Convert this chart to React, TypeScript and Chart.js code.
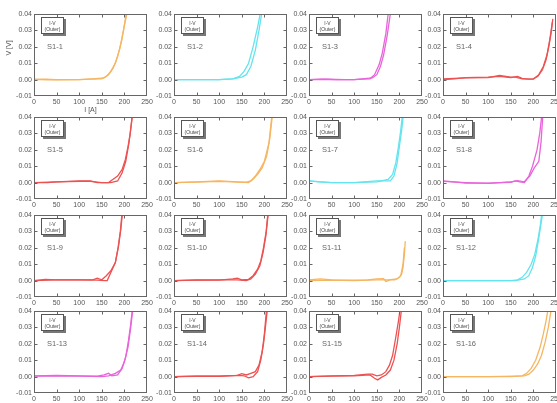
import React, { useEffect, useRef } from "react";
import { Chart, registerables } from "chart.js";

Chart.register(...registerables);

// ---- axis ticks ----
const X_TICKS = [0, 50, 100, 150, 200, 250];
const Y_TICKS = [-0.01, 0, 0.01, 0.02, 0.03, 0.04];

// ---- sample names ----
const SAMPLES = [
  "S1-1", "S1-2", "S1-3", "S1-4",
  "S1-5", "S1-6", "S1-7", "S1-8",
  "S1-9", "S1-10", "S1-11", "S1-12",
  "S1-13", "S1-14", "S1-15", "S1-16",
];

// ---- colour per sample ----
const ORANGE = "rgb(245,182,98)";
const CYAN = "rgb(100,228,238)";
const MAGENTA = "rgb(232,100,218)";
const RED = "rgb(236,82,82)";
const SAMPLE_COLORS = [
  ORANGE, CYAN, MAGENTA, RED,
  RED, ORANGE, CYAN, MAGENTA,
  RED, RED, ORANGE, CYAN,
  MAGENTA, RED, RED, ORANGE,
];

type Pt = [number, number];

// ---- I [A], V [V] curves (two sweeps per sample) ----
const S1_1_a: Pt[] = [[0,0],[25,0.0002],[50,0],[75,0],[100,0],[125,0.0003],[150,0.0005],[160,0.002],[170,0.005],[180,0.01],[190,0.019],[198,0.03],[205,0.042]];
const S1_1_b: Pt[] = [[0,0.0003],[25,0],[50,-0.0002],[100,0],[130,0.0005],[155,0.001],[165,0.003],[175,0.007],[185,0.014],[194,0.024],[200,0.033],[207,0.042]];

const S1_2_a: Pt[] = [[0,0],[50,0],[100,0],[130,0.0005],[145,0.002],[155,0.005],[165,0.01],[175,0.02],[185,0.032],[192,0.042]];
const S1_2_b: Pt[] = [[0,0],[50,0],[100,0],[130,0.0005],[150,0.0015],[160,0.003],[170,0.008],[180,0.018],[188,0.03],[195,0.042]];

const S1_3_a: Pt[] = [[0,0],[30,0.0003],[60,0],[100,0],[120,0.0003],[135,0.0005],[145,0.003],[155,0.009],[162,0.016],[170,0.028],[176,0.042]];
const S1_3_b: Pt[] = [[0,0],[40,0.0002],[80,0],[100,0],[140,0.001],[150,0.003],[158,0.008],[165,0.015],[173,0.027],[181,0.042]];

const S1_4_a: Pt[] = [[0,0],[25,0.0005],[50,0.0012],[100,0.0015],[125,0.002],[150,0.0012],[165,0.002],[175,0.0008],[190,0.0003],[200,0.0005],[210,0.002],[220,0.006],[228,0.012],[234,0.02],[239,0.028],[243,0.037]];
const S1_4_b: Pt[] = [[0,0.0005],[50,0.001],[100,0.0012],[125,0.0025],[150,0.0015],[160,0.0015],[175,0.0005],[200,0.0003],[212,0.003],[222,0.008],[230,0.015],[236,0.024],[242,0.035]];

const S1_5_a: Pt[] = [[0,0],[30,0],[50,0.0005],[100,0.001],[125,0.001],[140,0],[165,0],[175,0.002],[185,0.004],[195,0.008],[202,0.014],[208,0.022],[213,0.03],[218,0.042]];
const S1_5_b: Pt[] = [[0,0],[50,0.0005],[100,0.0008],[125,0.0008],[150,0],[170,0],[185,0.001],[195,0.006],[203,0.013],[210,0.024],[218,0.042]];

const S1_6_a: Pt[] = [[0,0],[50,0.0003],[100,0.0008],[130,0.0005],[165,0],[175,0.002],[185,0.005],[195,0.009],[205,0.016],[212,0.027],[218,0.042]];
const S1_6_b: Pt[] = [[0,0],[50,0.0005],[100,0.001],[140,0.0005],[160,0.0003],[170,0.001],[180,0.004],[190,0.008],[200,0.013],[210,0.024],[217,0.042]];

const S1_7_a: Pt[] = [[0,0.001],[20,0.0005],[50,0],[100,0],[150,0.0005],[175,0.002],[185,0.005],[192,0.012],[198,0.022],[203,0.032],[207,0.042]];
const S1_7_b: Pt[] = [[0,0.001],[50,0],[100,0],[150,0.001],[180,0.001],[188,0.004],[195,0.012],[200,0.022],[205,0.032],[209,0.042]];

const S1_8_a: Pt[] = [[0,0.001],[25,0.0005],[50,-0.0003],[100,-0.0003],[130,0],[150,0.0002],[160,0.001],[170,0.0005],[180,0],[190,0.004],[198,0.01],[208,0.02],[214,0.03],[219,0.042]];
const S1_8_b: Pt[] = [[0,0.0008],[50,0],[100,-0.0005],[150,0.0005],[165,0.0012],[180,0.0005],[192,0.004],[202,0.009],[212,0.013],[217,0.025],[221,0.042]];

const S1_9_a: Pt[] = [[0,0],[25,0.0008],[50,0.0005],[100,0.0005],[130,0.0005],[140,0.0015],[150,0.0005],[160,0.003],[170,0.006],[180,0.011],[186,0.02],[191,0.03],[195,0.042]];
const S1_9_b: Pt[] = [[0,0],[50,0.0005],[100,0.0005],[140,0.0003],[155,0],[162,0],[170,0.005],[180,0.011],[187,0.021],[192,0.031],[196,0.042]];

const S1_10_a: Pt[] = [[0,0],[50,0.0005],[100,0.0003],[130,0.001],[140,0.0015],[150,0.0005],[165,0.0008],[175,0.003],[185,0.007],[192,0.012],[198,0.02],[204,0.03],[208,0.042]];
const S1_10_b: Pt[] = [[0,0],[50,0.0003],[100,0.0005],[140,0.0005],[160,0],[170,0.001],[180,0.004],[190,0.009],[197,0.017],[203,0.027],[209,0.042]];

const S1_11_a: Pt[] = [[0,0.0005],[25,0.001],[50,0.0005],[100,0.0003],[130,0.0005],[150,0.001],[165,0.0012],[170,-0.0005],[180,0.0005],[190,0.0005],[200,0.002],[205,0.004],[208,0.008],[211,0.016],[213,0.024]];
const S1_11_b: Pt[] = [[0,0],[50,0.0003],[100,0],[150,0.0005],[175,0.0005],[195,0.001],[203,0.003],[208,0.01],[211,0.02]];

const S1_12_a: Pt[] = [[0,0],[50,0],[100,0],[150,0],[165,0.0005],[175,0.002],[185,0.005],[195,0.01],[203,0.016],[210,0.025],[215,0.033],[219,0.042]];
const S1_12_b: Pt[] = [[0,0],[100,0],[160,0],[180,0.001],[190,0.003],[198,0.008],[205,0.015],[212,0.026],[217,0.035],[221,0.042]];

const S1_13_a: Pt[] = [[0,0.0005],[50,0.0008],[100,0.0005],[140,0.0003],[155,0.001],[165,0.002],[172,0.0005],[185,0.001],[195,0.005],[203,0.012],[209,0.022],[214,0.032],[218,0.042]];
const S1_13_b: Pt[] = [[0,0.0003],[50,0.0005],[100,0.0003],[150,0],[165,0.0005],[180,0.002],[192,0.004],[200,0.009],[208,0.018],[214,0.03],[219,0.042]];

const S1_14_a: Pt[] = [[0,0],[50,0.0003],[100,0.0003],[140,0.0008],[150,0.0018],[160,0.001],[170,0.002],[180,0.003],[188,0.007],[195,0.015],[200,0.026],[205,0.042]];
const S1_14_b: Pt[] = [[0,0],[50,0.0002],[100,0.0002],[145,0.0008],[155,0.0005],[165,-0.0008],[175,0],[185,0.003],[192,0.01],[198,0.02],[203,0.032],[207,0.042]];

const S1_15_a: Pt[] = [[0,0],[50,0.0005],[100,0.0008],[130,0.0015],[140,0.0015],[150,0.0005],[160,0.001],[170,0.003],[178,0.007],[185,0.013],[192,0.024],[198,0.034],[202,0.042]];
const S1_15_b: Pt[] = [[0,0],[50,0.0003],[100,0.0005],[135,0.001],[145,-0.001],[152,-0.002],[160,-0.0005],[170,0.001],[180,0.004],[188,0.01],[195,0.02],[200,0.03],[205,0.042]];

const S1_16_a: Pt[] = [[0,0],[50,0],[100,0],[150,0],[175,0.0005],[185,0.002],[195,0.005],[205,0.01],[215,0.018],[222,0.026],[228,0.034],[233,0.042]];
const S1_16_b: Pt[] = [[0,0],[100,0],[160,0.0003],[180,0.0005],[190,0.0015],[200,0.004],[210,0.008],[218,0.013],[226,0.021],[233,0.03],[240,0.042]];

const SAMPLE_CURVES: Pt[][][] = [
  [S1_1_a, S1_1_b], [S1_2_a, S1_2_b], [S1_3_a, S1_3_b], [S1_4_a, S1_4_b],
  [S1_5_a, S1_5_b], [S1_6_a, S1_6_b], [S1_7_a, S1_7_b], [S1_8_a, S1_8_b],
  [S1_9_a, S1_9_b], [S1_10_a, S1_10_b], [S1_11_a, S1_11_b], [S1_12_a, S1_12_b],
  [S1_13_a, S1_13_b], [S1_14_a, S1_14_b], [S1_15_a, S1_15_b], [S1_16_a, S1_16_b],
];

// ---- layout ----
const COL_LEFT = [34, 174, 309, 443];
const ROW_TOP = [14, 117, 215, 311];
const PLOT_W = 113;
const PLOT_H = 82;
const M_LEFT = 34;
const M_TOP = 5;
const M_RIGHT = 7;
const M_BOTTOM = 12;

const FONT = "'Liberation Sans', Arial, Helvetica, sans-serif";
const AXIS_COLOR = "#666";
const TEXT_COLOR = "#555";

const framePlugin = {
  id: "frameTicks",
  afterDatasetsDraw(chart: any) {
    const { ctx, chartArea: a, scales } = chart;
    const L = Math.round(a.left) + 0.5;
    const R = Math.round(a.right) - 0.5;
    const T = Math.round(a.top) + 0.5;
    const B = Math.round(a.bottom) - 0.5;
    ctx.save();
    ctx.strokeStyle = AXIS_COLOR;
    ctx.lineWidth = 1;
    ctx.strokeRect(L, T, R - L, B - T);
    const len = 3;
    ctx.beginPath();
    for (const t of scales.x.ticks) {
      const px = Math.round(scales.x.getPixelForValue(t.value)) + 0.5;
      if (px <= L + 1 || px >= R - 1) continue;
      ctx.moveTo(px, B); ctx.lineTo(px, B - len);
      ctx.moveTo(px, T); ctx.lineTo(px, T + len);
    }
    for (const t of scales.y.ticks) {
      const py = Math.round(scales.y.getPixelForValue(t.value)) + 0.5;
      if (py <= T + 1 || py >= B - 1) continue;
      ctx.moveTo(L, py); ctx.lineTo(L + len, py);
      ctx.moveTo(R, py); ctx.lineTo(R - len, py);
    }
    ctx.stroke();
    ctx.restore();
  },
};

function fixBox(width?: number, height?: number) {
  return (scale: any) => {
    if (width !== undefined) scale.width = width;
    if (height !== undefined) scale.height = height;
    scale.paddingLeft = 0;
    scale.paddingRight = 0;
    scale.paddingTop = 0;
    scale.paddingBottom = 0;
  };
}

function Panel({ index }: { index: number }) {
  const ref = useRef<HTMLCanvasElement | null>(null);
  const col = index % 4;
  const row = Math.floor(index / 4);
  const cw = M_LEFT + PLOT_W + M_RIGHT;
  const ch = M_TOP + PLOT_H + M_BOTTOM;

  useEffect(() => {
    if (!ref.current) return;
    const color = SAMPLE_COLORS[index];
    const chart = new Chart(ref.current, {
      type: "scatter",
      data: {
        datasets: SAMPLE_CURVES[index].map((curve) => ({
          data: curve.map(([x, y]) => ({ x, y })),
          showLine: true,
          borderColor: color,
          backgroundColor: color,
          borderWidth: 1.3,
          pointRadius: 0,
          tension: 0,
          clip: 0,
        })),
      },
      options: {
        animation: false,
        responsive: false,
        devicePixelRatio: 1,
        layout: { padding: { left: 0, top: M_TOP, right: M_RIGHT, bottom: 0 } },
        plugins: { legend: { display: false }, tooltip: { enabled: false }, title: { display: false } },
        events: [],
        scales: {
          x: {
            type: "linear",
            min: 0,
            max: 250,
            afterBuildTicks: (s: any) => { s.ticks = X_TICKS.map((v) => ({ value: v })); },
            afterFit: fixBox(undefined, M_BOTTOM),
            grid: { display: false, drawTicks: false },
            border: { display: false },
            ticks: {
              padding: 2,
              color: TEXT_COLOR,
              font: { family: FONT, size: 7 },
              maxRotation: 0,
              autoSkip: false,
              callback: (v: any) => String(v),
            },
          },
          y: {
            type: "linear",
            min: -0.01,
            max: 0.04,
            afterBuildTicks: (s: any) => { s.ticks = Y_TICKS.map((v) => ({ value: v })); },
            afterFit: fixBox(M_LEFT, undefined),
            grid: { display: false, drawTicks: false },
            border: { display: false },
            ticks: {
              padding: 2,
              color: TEXT_COLOR,
              font: { family: FONT, size: 7 },
              autoSkip: false,
              callback: (v: any) => {
                const n = Number(v);
                return Math.abs(n) < 1e-9 ? "0.00" : n.toFixed(2);
              },
            },
          },
        },
      },
      plugins: [framePlugin],
    } as any);
    return () => chart.destroy();
  }, [index]);

  return (
    <canvas
      ref={ref}
      width={cw}
      height={ch}
      style={{
        position: "absolute",
        left: COL_LEFT[col] - M_LEFT,
        top: ROW_TOP[row] - M_TOP,
        width: cw,
        height: ch,
      }}
    />
  );
}

function Overlay({ index }: { index: number }) {
  const col = index % 4;
  const row = Math.floor(index / 4);
  const x0 = COL_LEFT[col];
  const y0 = ROW_TOP[row];
  return (
    <>
      <div
        style={{
          position: "absolute",
          left: x0 + 7,
          top: y0 + 3,
          width: 23,
          height: 17,
          boxSizing: "border-box",
          border: "1px solid #555",
          background: "#fff",
          boxShadow: "2px 2px 0 #777",
          color: "#444",
          fontFamily: FONT,
          fontSize: 5,
          lineHeight: "6px",
          textAlign: "center",
          paddingTop: 1.5,
          whiteSpace: "nowrap",
        }}
      >
        <div>I-V</div>
        <div>(Outer)</div>
      </div>
      <div
        style={{
          position: "absolute",
          left: x0 + 13,
          top: y0 + 28,
          color: "#666",
          fontFamily: FONT,
          fontSize: 7.5,
          lineHeight: "9px",
          whiteSpace: "nowrap",
        }}
      >
        {SAMPLES[index]}
      </div>
    </>
  );
}

export default function App() {
  return (
    <div
      style={{
        position: "absolute",
        left: 0,
        top: 0,
        width: 557,
        height: 403,
        background: "#fff",
        overflow: "hidden",
      }}
    >
      {SAMPLES.map((_, i) => (
        <Panel key={"p" + i} index={i} />
      ))}
      {SAMPLES.map((_, i) => (
        <Overlay key={"o" + i} index={i} />
      ))}
      <div
        style={{
          position: "absolute",
          left: COL_LEFT[0],
          width: PLOT_W,
          top: ROW_TOP[0] + PLOT_H + 10,
          textAlign: "center",
          color: TEXT_COLOR,
          fontFamily: FONT,
          fontSize: 7,
          lineHeight: "8px",
        }}
      >
        I [A]
      </div>
      <div
        style={{
          position: "absolute",
          left: 9,
          top: ROW_TOP[0] + 34,
          color: TEXT_COLOR,
          fontFamily: FONT,
          fontSize: 7,
          lineHeight: "8px",
          whiteSpace: "nowrap",
          transform: "translate(-50%, -50%) rotate(-90deg)",
        }}
      >
        V [V]
      </div>
    </div>
  );
}
